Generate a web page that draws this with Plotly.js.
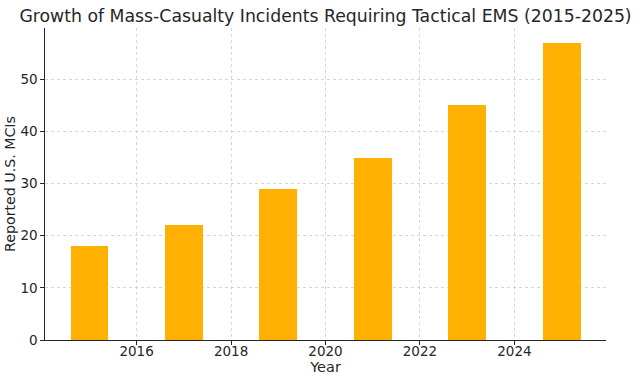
<!DOCTYPE html>
<html><head><meta charset="utf-8">
<script src="https://cdn.plot.ly/plotly-3.0.1.min.js"></script>
<style>html,body{margin:0;padding:0;background:#fff}#chart{width:640px;height:381px}</style>
</head><body><div id="chart"></div>
<script>
const years = [2015, 2017, 2019, 2021, 2023, 2025];
const incidents = [18, 22, 29, 35, 45, 57];
const xTicks = [2016, 2018, 2020, 2022, 2024];
const yTicks = [0, 10, 20, 30, 40, 50];

const font = 'DejaVu Sans, sans-serif';
Plotly.newPlot('chart', [{
  type: 'bar', x: years, y: incidents, width: 0.8,
  marker: {color: '#FFB000', line: {width: 0}}
}], {
  width: 640, height: 381,
  margin: {l: 45, r: 34, t: 28, b: 41},
  paper_bgcolor: '#fff', plot_bgcolor: '#fff',
  font: {family: font, color: '#262626', size: 13.5},
  title: {text: 'Growth of Mass-Casualty Incidents Requiring Tactical EMS (2015-2025)',
          font: {family: font, size: 17.3, color: '#262626'}, xref: 'paper', x: 0.5, xanchor: 'center', y: 0.975, yanchor: 'top'},
  xaxis: {range: [2014.06, 2025.94], tickvals: xTicks, ticktext: xTicks.map(String),
          tickfont: {family: font, size: 13.5, color: '#262626'}, ticklabelstandoff: -5,
          showline: true, linecolor: '#262626', linewidth: 1.2, ticks: 'outside', ticklen: 3.5, tickcolor: '#262626',
          showgrid: true, gridcolor: '#cccccc', griddash: 'dot', gridwidth: 0.8, zeroline: false,
          title: {text: 'Year', font: {family: font, size: 14.5}, standoff: 4}},
  yaxis: {range: [0, 59.85], tickvals: yTicks, ticktext: yTicks.map(String),
          tickfont: {family: font, size: 13.5, color: '#262626'},
          showline: true, linecolor: '#262626', linewidth: 1.2, ticks: 'outside', ticklen: 3.5, tickcolor: '#262626',
          showgrid: true, gridcolor: '#cccccc', griddash: 'dot', gridwidth: 0.8, zeroline: false},
  annotations: [{text: 'Reported U.S. MCIs', xref: 'paper', yref: 'paper', x: -35/561, y: 0.5,
                 xanchor: 'center', yanchor: 'middle', textangle: -90, showarrow: false,
                 font: {family: font, size: 14.2, color: '#262626'}}],
  bargap: 0, showlegend: false
}, {staticPlot: true});
</script></body></html>
